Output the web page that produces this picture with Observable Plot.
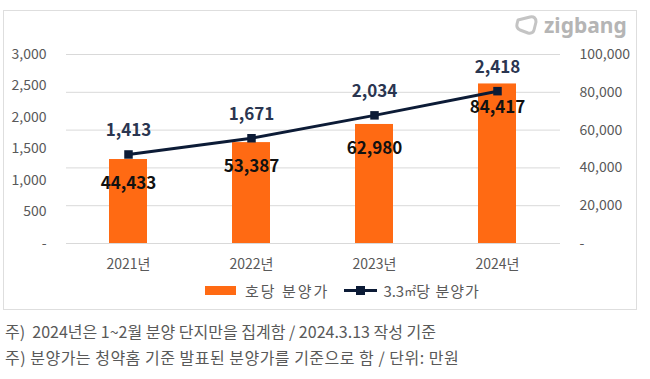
<!DOCTYPE html>
<html><head><meta charset="utf-8">
<script src="https://cdn.jsdelivr.net/npm/d3@7"></script>
<script src="https://cdn.jsdelivr.net/npm/@observablehq/plot@0.6"></script>
<style>
body{margin:0;background:#fff;font-family:"Noto Sans CJK KR","Noto Sans",sans-serif;}
#wrap{position:relative;width:650px;height:379px;overflow:hidden;background:#fff}
#frame{position:absolute;left:3px;top:10px;width:634px;height:300px;border:1px solid #dedede;box-sizing:border-box}
#chart{position:absolute;left:0;top:0}
#logo{position:absolute;left:514px;top:12px;display:flex;align-items:center;gap:4px;color:#b5b5b5;font-family:"Noto Sans",sans-serif;font-weight:700;font-size:21px;line-height:26px}
#legend{position:absolute;top:280px;left:205px;display:flex;align-items:center;font-size:15px;color:#595959}
.ko{letter-spacing:2px}
.ko2{letter-spacing:1px}
.m2{font-size:12px}
.sw{display:inline-block;width:31px;height:9px;background:#ff6a13;margin-right:9px}
.ln{position:relative;display:inline-block;width:33px;height:3px;background:#0c1b36;margin-left:15px;margin-right:6px}
.ln:after{content:"";position:absolute;left:12px;top:-3px;width:9px;height:9px;background:#0c1b36}
#notes{position:absolute;left:5px;top:318px;font-size:16px;color:#595959;line-height:26px}
#notes .n2{letter-spacing:0.5px}
</style></head>
<body>
<div id="wrap">
  <div id="frame"></div>
  <div id="chart"></div>
  <div id="logo"><svg width="26" height="22" viewBox="0 0 26 22"><path d="M4 6 L16 3 Q22 2 22 8 L20 16 Q19 20 14 19 L6 16 Q2 14 3 10 Z" fill="none" stroke="#c4c4c4" stroke-width="3" stroke-linejoin="round"/></svg><span>zigbang</span></div>
  <div id="legend"><span class="sw"></span><span class="ko">호당 분양가</span><span class="ln"></span><span>3.3</span><span class="m2">㎡</span><span class="ko2">당 분양가</span></div>
  <div id="notes"><div>주)&nbsp; 2024년은 1~2월 분양 단지만을 집계함 / 2024.3.13 작성 기준</div><div class="n2">주) 분양가는 청약홈 기준 발표된 분양가를 기준으로 함 / 단위: 만원</div></div>
</div>
<script>
const years = ["2021년", "2022년", "2023년", "2024년"];
const unitPrice = [44433, 53387, 62980, 84417];   // 호당 분양가 (right axis)
const pyeongPrice = [1413, 1671, 2034, 2418];     // 3.3㎡당 분양가 (left axis)
const leftTicks = [0, 500, 1000, 1500, 2000, 2500, 3000];
const rightTicks = [0, 20000, 40000, 60000, 80000, 100000];

const leftMax = 3000, rightMax = 100000;
const toRight = v => v * rightMax / leftMax;
const fmt = d3.format(",");
const data = years.map((y, i) => ({year: y, unit: unitPrice[i], pyeong: pyeongPrice[i]}));

const chart = Plot.plot({
  width: 650, height: 310,
  marginTop: 54, marginBottom: 67, marginLeft: 66, marginRight: 90,
  style: {fontFamily: '"Noto Sans CJK KR","Noto Sans",sans-serif', background: "transparent"},
  x: {domain: years, paddingInner: 0.69, paddingOuter: 0.345, axis: null},
  y: {domain: [0, rightMax], axis: null},
  marks: [
    Plot.gridY(rightTicks, {stroke: "#d9d9d9", strokeOpacity: 1}),
    Plot.axisY(leftTicks.map(toRight), {anchor: "left", label: null, tickSize: 0, tickPadding: 20, fontSize: 14, fill: "#595959",
      tickFormat: d => { const v = Math.round(d * leftMax / rightMax); return v === 0 ? "-" : fmt(v); }}),
    Plot.axisY(rightTicks, {anchor: "right", label: null, tickSize: 0, tickPadding: 19, fontSize: 14, fill: "#595959",
      tickFormat: d => d === 0 ? "-" : fmt(d)}),
    Plot.axisX(years, {label: null, tickSize: 0, tickPadding: 16, fontSize: 14, fill: "#595959"}),
    Plot.barY(data, {x: "year", y: "unit", fill: "#ff6a13"}),
    Plot.line(data, {x: "year", y: d => toRight(d.pyeong), stroke: "#0c1b36", strokeWidth: 3}),
    Plot.dot(data, {x: "year", y: d => toRight(d.pyeong), symbol: "square", r: 4.8, fill: "#0c1b36", stroke: null}),
    Plot.text(data, {x: "year", y: d => toRight(d.pyeong), text: d => fmt(d.pyeong), dy: -24, fontSize: 17, fontWeight: "bold", fill: "#2a3550"}),
    Plot.text(data, {x: "year", y: "unit", text: d => fmt(d.unit), dy: 24, fontSize: 17, fontWeight: "bold", fill: "#111111"})
  ]
});
document.getElementById("chart").appendChild(chart);
</script>
</body></html>
